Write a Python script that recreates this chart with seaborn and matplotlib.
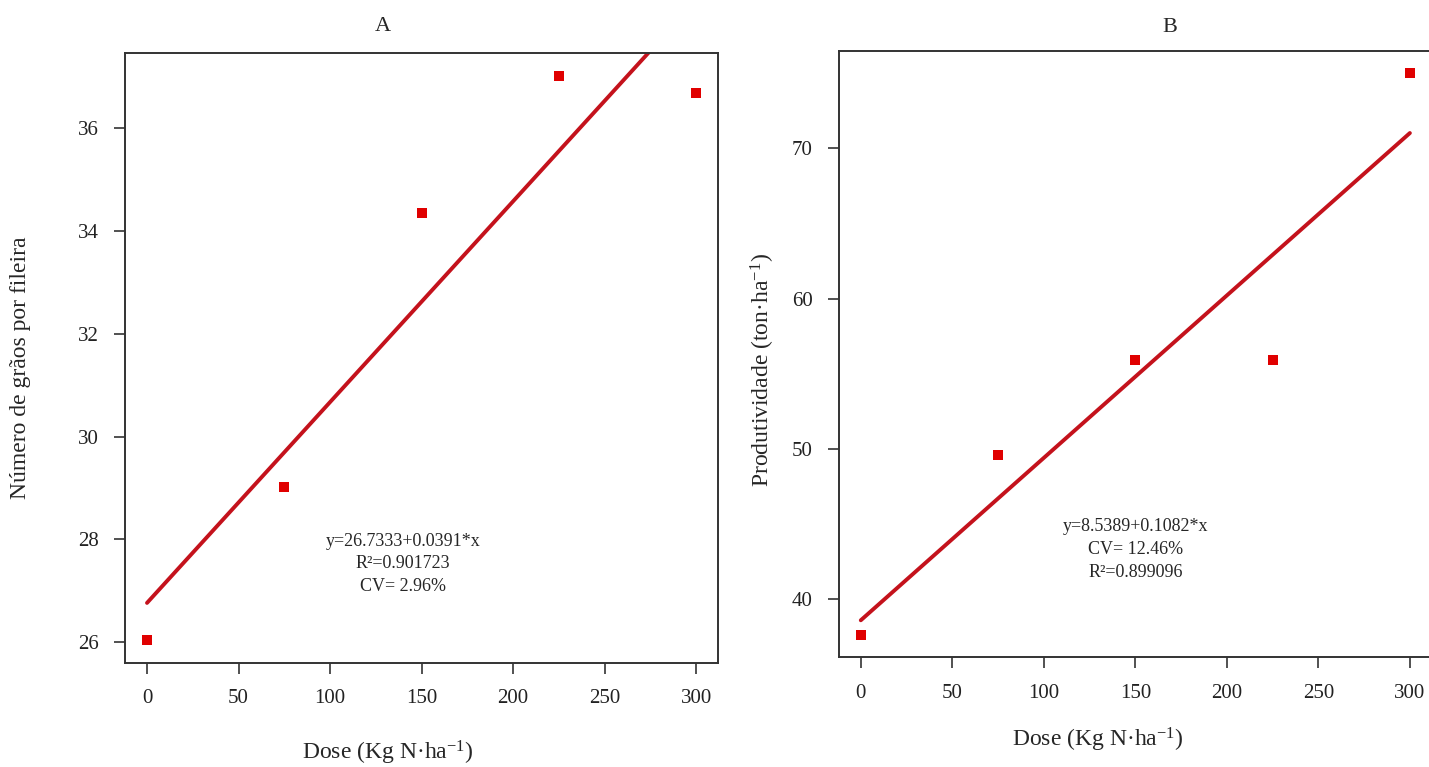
import numpy as np
import pandas as pd
import matplotlib
matplotlib.use('Agg')
import matplotlib.pyplot as plt
import seaborn as sns

dose = [0, 75, 150, 225, 300]
graos = [26.03, 29.02, 34.36, 37.03, 36.69]
produtividade = [37.6, 49.6, 55.9, 55.9, 75.0]

xticks = [0, 50, 100, 150, 200, 250, 300]
yticks_a = [26, 28, 30, 32, 34, 36]
yticks_b = [40, 50, 60, 70]

texto_a = "y=26.7333+0.0391*x\nR\u00b2=0.901723\nCV= 2.96%"
texto_b = "y=8.5389+0.1082*x\nCV= 12.46%\nR\u00b2=0.899096"

sns.set_style('white')
plt.rcParams['font.family'] = ['Liberation Serif', 'DejaVu Serif']
plt.rcParams['mathtext.default'] = 'regular'

PONTO = '#e00000'
LINHA = '#c4121c'


def _lim(v):
    lo, hi = min(v), max(v)
    d = (hi - lo) * 0.04
    return lo - d, hi + d


def painel(ax, y, yticks):
    df = pd.DataFrame({'dose': dose, 'y': y})
    sns.regplot(data=df, x='dose', y='y', ci=None, marker='s', ax=ax,
                scatter_kws={'s': 62, 'color': PONTO, 'alpha': 1, 'linewidths': 0, 'zorder': 3},
                line_kws={'color': LINHA, 'lw': 2.8, 'zorder': 2})
    ax.set_xlim(_lim(dose))
    ax.set_ylim(_lim(y))
    ax.set_xticks(xticks)
    ax.set_yticks(yticks)
    ax.tick_params(direction='out', length=8, width=1.1, pad=11,
                   labelsize=15, colors='#222222', left=True, bottom=True)
    for s in ax.spines.values():
        s.set_color('#333333')
        s.set_linewidth(1.4)
    ax.set_xlabel('Dose (Kg N\u00b7ha$^{-1}$)', fontsize=17)


fig = plt.figure(figsize=(14.29, 7.67), dpi=100)
ax1 = fig.add_axes([0.0875, 0.1356, 0.415, 0.7953])
ax2 = fig.add_axes([0.587, 0.1428, 0.415, 0.791])

painel(ax1, graos, yticks_a)
ax1.set_ylabel('Número de grãos por fileira', fontsize=17)
ax1.xaxis.set_label_coords(0.4435, -0.1475)
ax1.yaxis.set_label_coords(-0.177, 0.484)
ax1.text(0.435, 1.044, 'A', transform=ax1.transAxes, ha='center', va='center', fontsize=16)
ax1.text(140, 27.52, texto_a, ha='center', va='center', fontsize=13, linespacing=1.45)

painel(ax2, produtividade, yticks_b)
ax2.spines['right'].set_visible(False)
ax2.set_ylabel('Produtividade (ton\u00b7ha$^{-1}$)', fontsize=17)
ax2.xaxis.set_label_coords(0.437, -0.136)
ax2.yaxis.set_label_coords(-0.128, 0.474)
ax2.text(0.558, 1.039, 'B', transform=ax2.transAxes, ha='center', va='center', fontsize=16)
ax2.text(150, 43.27, texto_b, ha='center', va='center', fontsize=13, linespacing=1.45)

for ax in (ax1, ax2):
    ax.xaxis.label.set_va('center')
    ax.yaxis.label.set_va('center')

fig.savefig('out.png', dpi=100)
plt.close(fig)
